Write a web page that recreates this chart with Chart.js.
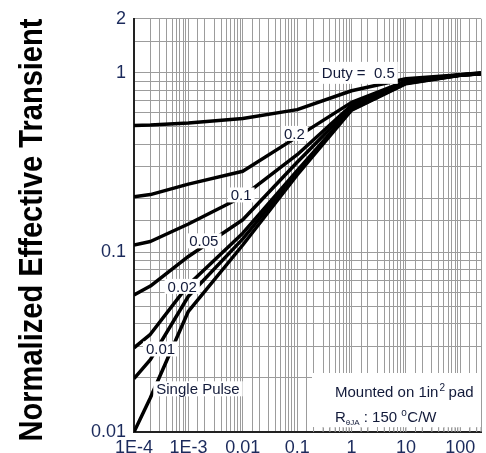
<!DOCTYPE html>
<html>
<head>
<meta charset="utf-8">
<script src="https://cdn.jsdelivr.net/npm/chart.js@4.4.0/dist/chart.umd.min.js"></script>
<style>
  html, body { margin: 0; padding: 0; background: #fff; }
</style>
</head>
<body>
<canvas id="chartZth" width="486" height="453"></canvas>
<script>
/* Normalized transient thermal impedance vs. pulse time */

var FONT = '"Liberation Sans", Arial, sans-serif';
var INK = '#121a3a';
var TICK_INK = '#1b2a5c';
var GRID = '#9c9c9c';

/* pulse time (s) where the curves were read */
var pulseTime = [1e-4, 2e-4, 1e-3, 0.01, 0.1, 1, 10, 100, 240];

/* one array per duty cycle */
var duty50 = [0.509, 0.512, 0.525, 0.557, 0.624, 0.795, 0.927, 0.975, 1.0];
var duty20 = [0.204, 0.210, 0.240, 0.283, 0.440, 0.685, 0.900, 0.975, 0.995];
var duty10 = [0.110, 0.115, 0.144, 0.205, 0.350, 0.660, 0.890, 0.974, 0.992];
var duty05 = [0.058, 0.065, 0.095, 0.152, 0.318, 0.645, 0.885, 0.972, 0.990];
var duty02 = [0.0294, 0.035, 0.066, 0.128, 0.285, 0.630, 0.880, 0.972, 0.990];
var duty01 = [0.0198, 0.0253, 0.057, 0.119, 0.277, 0.624, 0.875, 0.970, 0.990];
var singlePulse = [0.010, 0.0155, 0.047, 0.110, 0.270, 0.620, 0.870, 0.970, 0.990];

/* in-plot curve labels, placed in data units */
var curveLabels = ['Duty =  0.5', '0.2', '0.1', '0.05', '0.02', '0.01', 'Single Pulse'];
var labelX = [1.33, 0.0887, 0.00935, 0.00192, 7.7e-4, 3.08e-4, 0.0015];
var labelY = [1.0, 0.46, 0.209, 0.116, 0.0647, 0.029, 0.0174];

/* axis tick labels */
var xTickVals = [1e-4, 1e-3, 0.01, 0.1, 1, 10, 100];
var xTickText = ['1E-4', '1E-3', '0.01', '0.1', '1', '10', '100'];
var yTickVals = [0.01, 0.1, 1, 2];
var yTickText = ['0.01', '0.1', '1', '2'];

var yTitle = 'Normalized Effective Transient';

function pick(v, vals, txt) {
  for (var i = 0; i < vals.length; i++) {
    if (Math.abs(Math.log10(v) - Math.log10(vals[i])) < 1e-6) return txt[i];
  }
  return '';
}

function toPoints(ys) {
  return pulseTime.map(function (t, i) { return { x: t, y: ys[i] }; });
}

var curves = [duty50, duty20, duty10, duty05, duty02, duty01, singlePulse];

/* title, labels with white boxes, mounting note */
var overlay = {
  id: 'overlay',
  afterDatasetsDraw: function (chart) {
    var ctx = chart.ctx, xs = chart.scales.x, ys = chart.scales.y, a = chart.chartArea;
    ctx.save();

    /* curve labels */
    ctx.font = '15px ' + FONT;
    ctx.textAlign = 'center';
    ctx.textBaseline = 'middle';
    curveLabels.forEach(function (t, i) {
      var px = xs.getPixelForValue(labelX[i]);
      var py = ys.getPixelForValue(labelY[i]);
      var w = ctx.measureText(t).width + 6;
      var h = i === 0 ? 22 : 15;
      ctx.fillStyle = '#fff';
      ctx.fillRect(px - w / 2, py - h / 2, w, h);
      ctx.fillStyle = INK;
      ctx.fillText(t, px, py + 1);
    });

    /* mounting note box, bottom right */
    var bx = a.right - 169, by = a.bottom - 59;
    ctx.fillStyle = '#fff';
    ctx.fillRect(bx, by, a.right - bx, 55);
    /* small inner tick marks that show under the box */
    ctx.strokeStyle = GRID;
    ctx.lineWidth = 1;
    xs.ticks.forEach(function (tk) {
      var px = xs.getPixelForValue(tk.value);
      if (px <= bx || px > a.right) return;
      ctx.beginPath();
      ctx.moveTo(px, a.bottom);
      ctx.lineTo(px, a.bottom - 5);
      ctx.stroke();
    });

    ctx.fillStyle = INK;
    ctx.textAlign = 'left';
    ctx.textBaseline = 'alphabetic';
    var tx = bx + 23, l1 = a.bottom - 35, l2 = a.bottom - 10;
    ctx.font = '15px ' + FONT;
    ctx.fillText('Mounted on 1in', tx, l1);
    var w1 = ctx.measureText('Mounted on 1in').width;
    ctx.font = '10px ' + FONT;
    ctx.fillText('2', tx + w1 + 1, l1 - 6);
    ctx.font = '15px ' + FONT;
    ctx.fillText(' pad', tx + w1 + 6, l1);

    ctx.fillText('R', tx, l2);
    var wr = ctx.measureText('R').width;
    ctx.font = '8px ' + FONT;
    ctx.fillText('\u03b8JA', tx + wr, l2 + 3);
    var ws = ctx.measureText('\u03b8JA').width;
    ctx.font = '15px ' + FONT;
    ctx.fillText(' : 150 ', tx + wr + ws, l2);
    var w2 = ctx.measureText(' : 150 ').width;
    ctx.font = '10px ' + FONT;
    ctx.fillText('o', tx + wr + ws + w2, l2 - 6);
    ctx.font = '15px ' + FONT;
    ctx.fillText('C/W', tx + wr + ws + w2 + 6, l2);

    /* y-axis title */
    ctx.translate(42, 230);
    ctx.rotate(-Math.PI / 2);
    ctx.scale(0.88, 1);
    ctx.font = 'bold 33px ' + FONT;
    ctx.textAlign = 'center';
    ctx.fillStyle = '#000';
    ctx.fillText(yTitle, 0, 0);

    ctx.restore();
  }
};

new Chart(document.getElementById('chartZth'), {
  type: 'line',
  data: {
    datasets: curves.map(function (c) {
      return {
        data: toPoints(c),
        borderColor: '#000',
        borderWidth: 3.5,
        borderJoinStyle: 'round',
        pointRadius: 0,
        fill: false,
        tension: 0
      };
    })
  },
  options: {
    responsive: false,
    animation: false,
    devicePixelRatio: 1,
    layout: { padding: { top: 16, right: 0, bottom: 0, left: 0 } },
    plugins: { legend: { display: false }, tooltip: { enabled: false } },
    scales: {
      x: {
        type: 'logarithmic',
        min: 1e-4,
        max: 240,
        grid: { color: GRID, lineWidth: 1, drawTicks: false },
        border: { color: '#222', width: 2 },
        ticks: {
          autoSkip: false, maxRotation: 0, padding: 5, color: TICK_INK,
          font: { size: 18, family: FONT },
          callback: function (v) { return pick(v, xTickVals, xTickText); }
        },
        afterFit: function (s) { s.height = 21; }
      },
      y: {
        type: 'logarithmic',
        min: 0.01,
        max: 2,
        grid: { color: GRID, lineWidth: 1, drawTicks: false },
        border: { color: '#222', width: 2 },
        ticks: {
          autoSkip: false, padding: 8, color: TICK_INK,
          font: { size: 18, family: FONT },
          callback: function (v) { return pick(v, yTickVals, yTickText); }
        },
        afterFit: function (s) { s.width = 134; }
      }
    }
  },
  plugins: [overlay]
});
</script>
</body>
</html>
